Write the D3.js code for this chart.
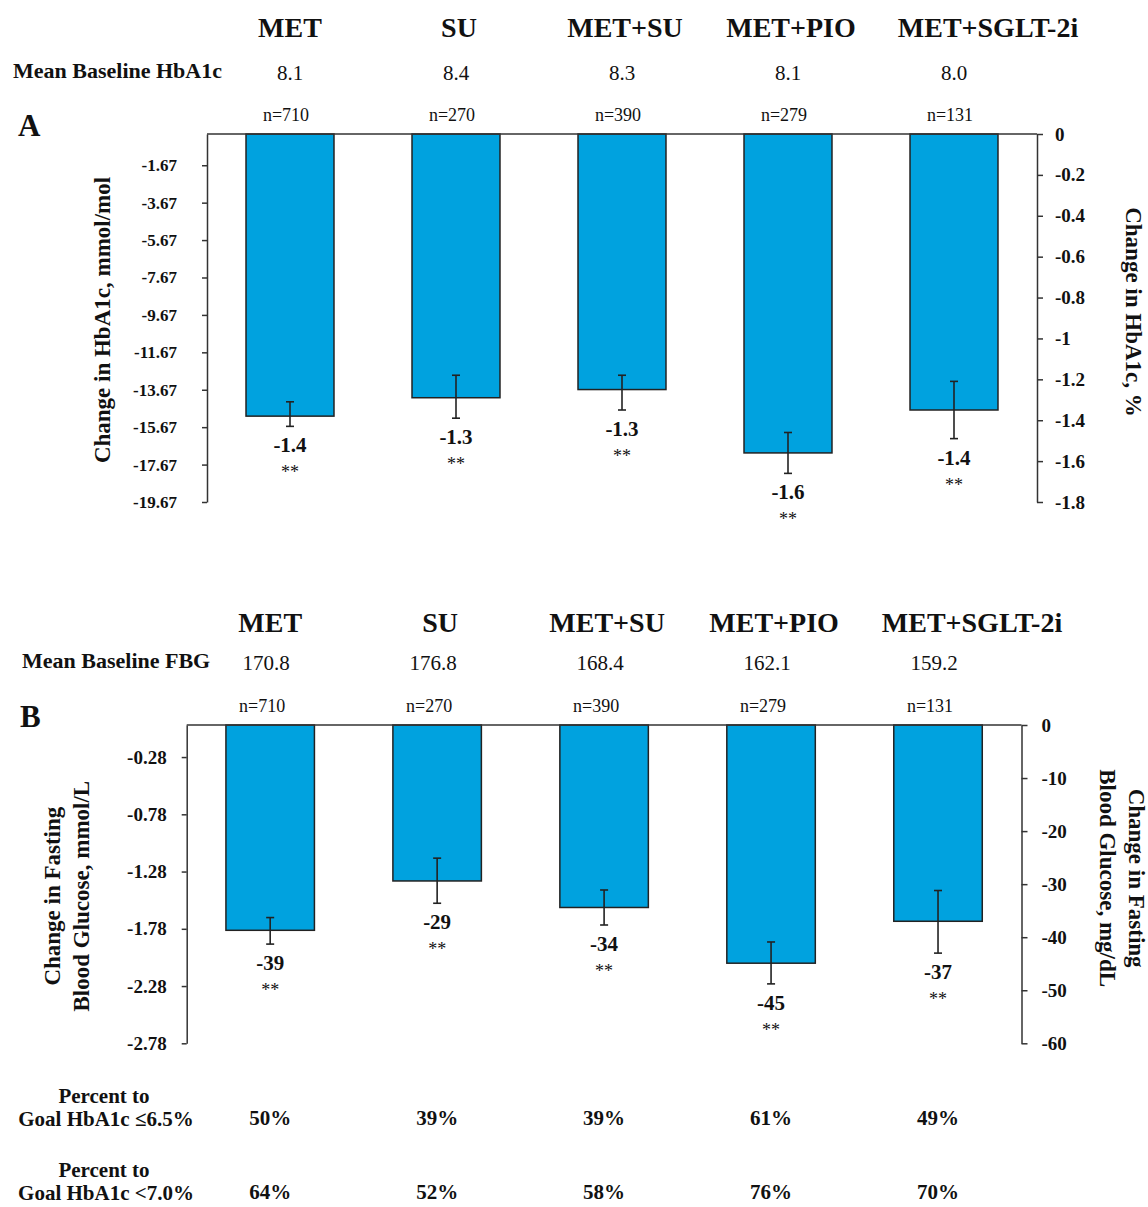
<!DOCTYPE html>
<html>
  <head>
    <meta charset="utf-8" />
    <title>HbA1c and FBG change by regimen</title>
    <script src="https://d3js.org/d3.v7.min.js"></script>
    <style>
      body {
        margin: 0;
        background: #fff;
      }
      svg text {
        font-family: "Liberation Serif", "Times New Roman", serif;
        fill: #111;
      }
      .axis path,
      .axis line {
        stroke: #333;
        stroke-width: 1.5px;
      }
      .axis text {
        font-weight: bold;
      }
      .header {
        font-weight: bold;
        font-size: 28px;
      }
      .rowlabel {
        font-weight: bold;
        font-size: 22px;
      }
      .bold {
        font-weight: bold;
      }
    </style>
  </head>
  <body>
    <svg id="chart" width="1148" height="1207"></svg>

    <script>
      // Treatment groups
      const categories = ["MET", "SU", "MET+SU", "MET+PIO", "MET+SGLT-2i"];
      const sampleSizes = [710, 270, 390, 279, 131];

      // Panel A: HbA1c
      const baselineHbA1c = ["8.1", "8.4", "8.3", "8.1", "8.0"];
      const hba1cChange = [-1.38, -1.29, -1.25, -1.56, -1.35];
      const hba1cLow = [-1.43, -1.39, -1.35, -1.66, -1.49];
      const hba1cHigh = [-1.31, -1.18, -1.18, -1.46, -1.21];
      const hba1cLabels = ["-1.4", "-1.3", "-1.3", "-1.6", "-1.4"];
      const hba1cMmolTicks = [-1.67, -3.67, -5.67, -7.67, -9.67, -11.67, -13.67, -15.67, -17.67, -19.67];
      const hba1cPctTicks = [0, -0.2, -0.4, -0.6, -0.8, -1, -1.2, -1.4, -1.6, -1.8];

      // Panel B: fasting blood glucose
      const baselineFBG = ["170.8", "176.8", "168.4", "162.1", "159.2"];
      const fbgChange = [-38.7, -29.4, -34.4, -44.9, -37.0];
      const fbgLow = [-41.3, -33.6, -37.7, -48.8, -43.0];
      const fbgHigh = [-36.3, -25.1, -31.1, -40.9, -31.2];
      const fbgLabels = ["-39", "-29", "-34", "-45", "-37"];
      const fbgMmolTicks = [-0.28, -0.78, -1.28, -1.78, -2.28, -2.78];
      const fbgMgTicks = [0, -10, -20, -30, -40, -50, -60];

      // Percent reaching goal
      const goal65 = ["50%", "39%", "39%", "61%", "49%"];
      const goal70 = ["64%", "52%", "58%", "76%", "70%"];

      const svg = d3.select("#chart");
      const barColor = "#00a2df";
      const fmt = (d) => String(d); // keep plain hyphen minus

      function drawPanel(opt) {
        const g = svg.append("g");
        const x = d3
          .scaleBand()
          .domain(categories)
          .range([opt.left, opt.right])
          .paddingInner(0.47)
          .paddingOuter(0.235);
        const yL = d3.scaleLinear().domain([0, opt.leftMin]).range([opt.top, opt.bottom]);
        const yR = d3.scaleLinear().domain([0, opt.rightMin]).range([opt.top, opt.bottom]);
        const cx = (c) => x(c) + x.bandwidth() / 2;

        // headers above the plot
        g.selectAll("text.header")
          .data(categories)
          .join("text")
          .attr("class", "header")
          .attr("text-anchor", "middle")
          .attr("x", (d, i) => cx(d) + (i === 4 ? 34 : i === 0 ? 0 : 3))
          .attr("y", opt.headerY)
          .text((d) => d);

        g.append("text")
          .attr("class", "rowlabel")
          .attr("x", opt.rowLabelX)
          .attr("y", opt.baseY)
          .text(opt.rowLabel);

        g.selectAll("text.base")
          .data(opt.baseline)
          .join("text")
          .attr("class", "base")
          .attr("text-anchor", "middle")
          .attr("font-size", 21)
          .attr("x", (d, i) => cx(categories[i]) + opt.baseShift)
          .attr("y", opt.baseY + 2)
          .text((d) => d);

        g.selectAll("text.n")
          .data(sampleSizes)
          .join("text")
          .attr("class", "n")
          .attr("text-anchor", "middle")
          .attr("font-size", 18)
          .attr("x", (d, i) => cx(categories[i]) + opt.baseShift - 4)
          .attr("y", opt.top - 13)
          .text((d) => "n=" + d);

        g.append("text")
          .attr("class", "bold")
          .attr("font-size", 31)
          .attr("x", opt.letterX)
          .attr("y", opt.top + 2)
          .text(opt.letter);

        // bars
        g.selectAll("rect")
          .data(opt.values)
          .join("rect")
          .attr("x", (d, i) => x(categories[i]))
          .attr("width", x.bandwidth())
          .attr("y", yR(0))
          .attr("height", (d) => yR(d) - yR(0))
          .attr("fill", barColor)
          .attr("stroke", "#222")
          .attr("stroke-width", 1.5);

        // error bars
        const eb = g
          .selectAll("g.err")
          .data(opt.values)
          .join("g")
          .attr("class", "err")
          .attr("stroke", "#222")
          .attr("stroke-width", 1.6);
        eb.append("line")
          .attr("x1", (d, i) => cx(categories[i]))
          .attr("x2", (d, i) => cx(categories[i]))
          .attr("y1", (d, i) => yR(opt.high[i]))
          .attr("y2", (d, i) => yR(opt.low[i]));
        [opt.high, opt.low].forEach((arr) => {
          eb.append("line")
            .attr("x1", (d, i) => cx(categories[i]) - 4)
            .attr("x2", (d, i) => cx(categories[i]) + 4)
            .attr("y1", (d, i) => yR(arr[i]))
            .attr("y2", (d, i) => yR(arr[i]));
        });

        // value labels + significance
        g.selectAll("text.val")
          .data(opt.labels)
          .join("text")
          .attr("class", "val bold")
          .attr("text-anchor", "middle")
          .attr("font-size", 21)
          .attr("x", (d, i) => cx(categories[i]))
          .attr("y", (d, i) => yR(opt.low[i]) + 26)
          .text((d) => d);
        g.selectAll("text.sig")
          .data(opt.labels)
          .join("text")
          .attr("class", "sig")
          .attr("text-anchor", "middle")
          .attr("font-size", 18)
          .attr("x", (d, i) => cx(categories[i]))
          .attr("y", (d, i) => yR(opt.low[i]) + 52)
          .text("**");

        // zero line
        g.append("line")
          .attr("x1", opt.left)
          .attr("x2", opt.right)
          .attr("y1", yR(0))
          .attr("y2", yR(0))
          .attr("stroke", "#333")
          .attr("stroke-width", 1.5);

        // axes
        g.append("g")
          .attr("class", "axis")
          .attr("transform", `translate(${opt.left},0)`)
          .call(
            d3.axisLeft(yL).tickValues(opt.leftTicks).tickFormat(fmt)
              .tickSize(5).tickSizeOuter(0).tickPadding(opt.leftPad)
          )
          .call((a) => a.selectAll("text").attr("font-size", opt.leftFont));
        g.append("g")
          .attr("class", "axis")
          .attr("transform", `translate(${opt.right},0)`)
          .call(
            d3.axisRight(yR).tickValues(opt.rightTicks).tickFormat(fmt)
              .tickSize(6).tickSizeOuter(0).tickPadding(opt.rightPad)
          )
          .call((a) => a.selectAll("text").attr("font-size", 19));

        // axis titles
        const mid = (opt.top + opt.bottom) / 2;
        opt.leftTitle.forEach((t, k) => {
          g.append("text")
            .attr("class", "bold")
            .attr("font-size", 23)
            .attr("text-anchor", "middle")
            .attr("transform", `translate(${opt.leftTitleX[k]},${mid + opt.leftTitleDy}) rotate(-90)`)
            .attr("dy", "0.35em")
            .text(t);
        });
        opt.rightTitle.forEach((t, k) => {
          g.append("text")
            .attr("class", "bold")
            .attr("font-size", 23)
            .attr("text-anchor", "middle")
            .attr("transform", `translate(${opt.rightTitleX[k]},${mid - 6}) rotate(90)`)
            .attr("dy", "0.35em")
            .text(t);
        });
        return cx;
      }

      drawPanel({
        left: 207, right: 1037, top: 134, bottom: 502,
        leftMin: -19.67, rightMin: -1.8,
        leftTicks: hba1cMmolTicks, rightTicks: hba1cPctTicks,
        leftPad: 25, rightPad: 12, leftFont: 17,
        values: hba1cChange, low: hba1cLow, high: hba1cHigh, labels: hba1cLabels,
        headerY: 37, baseY: 78, baseShift: 0,
        rowLabel: "Mean Baseline HbA1c", rowLabelX: 13, baseline: baselineHbA1c,
        letter: "A", letterX: 18,
        leftTitle: ["Change in HbA1c, mmol/mol"], leftTitleX: [102], leftTitleDy: 2,
        rightTitle: ["Change in HbA1c, %"], rightTitleX: [1134]
      });

      const cxB = drawPanel({
        left: 186.7, right: 1021.5, top: 725, bottom: 1043.3,
        leftMin: -2.78, rightMin: -60,
        leftTicks: fbgMmolTicks, rightTicks: fbgMgTicks,
        leftPad: 15, rightPad: 14, leftFont: 19,
        values: fbgChange, low: fbgLow, high: fbgHigh, labels: fbgLabels,
        headerY: 632, baseY: 668, baseShift: -4,
        rowLabel: "Mean Baseline FBG", rowLabelX: 22, baseline: baselineFBG,
        letter: "B", letterX: 20,
        leftTitle: ["Change in Fasting", "Blood Glucose, mmol/L"], leftTitleX: [52, 81], leftTitleDy: 12,
        rightTitle: ["Change in Fasting", "Blood Glucose, mg/dL"], rightTitleX: [1137, 1108]
      });

      // goal attainment rows
      const goalRows = [
        { top: "Percent to", bottom: "Goal HbA1c \u22646.5%", vals: goal65, y: 1103 },
        { top: "Percent to", bottom: "Goal HbA1c <7.0%", vals: goal70, y: 1177 },
      ];
      goalRows.forEach((r) => {
        svg.append("text").attr("class", "bold").attr("font-size", 21)
          .attr("text-anchor", "middle").attr("x", 104).attr("y", r.y).text(r.top);
        svg.append("text").attr("class", "bold").attr("font-size", 21)
          .attr("text-anchor", "middle").attr("x", 106).attr("y", r.y + 23).text(r.bottom);
        svg.append("g")
          .selectAll("text")
          .data(r.vals)
          .join("text")
          .attr("class", "bold")
          .attr("font-size", 21)
          .attr("text-anchor", "middle")
          .attr("x", (d, i) => cxB(categories[i]))
          .attr("y", r.y + 22)
          .text((d) => d);
      });
    </script>
  </body>
</html>
